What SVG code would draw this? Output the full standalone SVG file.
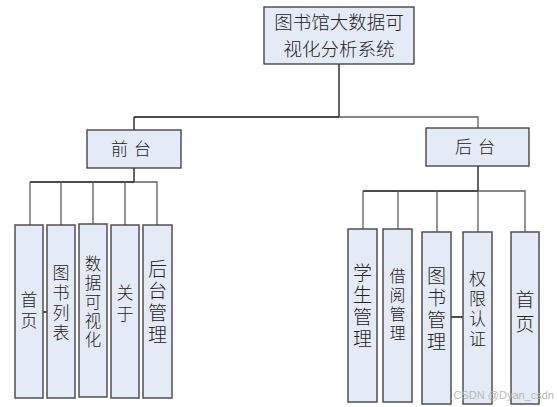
<svg xmlns="http://www.w3.org/2000/svg" width="557" height="407" viewBox="0 0 557 407">
<style>
.box{fill:#e5ebf6;stroke:#3a3a3a;stroke-width:1.3}
.leaf{fill:#e5ebf6;stroke:#505050;stroke-width:1.5}
.t{font-family:"Noto Sans CJK SC","Noto Sans CJK JP",sans-serif;font-weight:300;fill:#222;text-anchor:middle}
.v{writing-mode:vertical-rl;text-orientation:upright}
.ln{stroke:#111;stroke-width:1.3;fill:none}
.lg{stroke:#606060;stroke-width:1.3;fill:none}
</style>
<rect width="557" height="407" fill="#fff"/>
<g id="connectors">
<path class="ln" d="M339 64V117M134 117H339M134 117V130"/>
<path class="lg" d="M339 117H478V128"/>
<path class="ln" d="M134 168V182M30 182H134"/>
<path class="lg" d="M134 182H157V225M30 182V225M61 182V225M93 182V224M125 182V225"/>
<path class="ln" d="M478 166V191M363 191H478"/>
<path class="lg" d="M478 191H525V232M363 191V229M398 191V229M437 191V232M478 191V232"/>
<path class="ln" d="M43 312H47M451 317H463"/>
</g>
<g id="root"><rect class="box" x="264" y="7" width="150" height="57"/>
<text class="t" font-size="18.5" x="339" y="29">图书馆大数据可</text>
<text class="t" font-size="18.5" x="339" y="56">视化分析系统</text></g>
<g id="qiantai"><rect class="box" x="87" y="130" width="94" height="38"/>
<text class="t" font-size="17" x="134" y="155" letter-spacing="6">前台</text></g>
<g id="houtai"><rect class="box" x="426" y="128" width="103" height="38"/>
<text class="t" font-size="17" x="478" y="153" letter-spacing="6">后台</text></g>
<g id="l1"><rect class="leaf" x="15" y="225" width="28" height="173"/>
<text class="t v" font-size="17" letter-spacing="4" x="29" y="312.5">首页</text></g>
<g id="l2"><rect class="leaf" x="47" y="225" width="28" height="173"/>
<text class="t v" font-size="17" letter-spacing="3" x="61" y="304.5">图书列表</text></g>
<g id="l3"><rect class="leaf" x="79" y="224" width="28" height="173" stroke="#222"/>
<text class="t v" font-size="16.5" letter-spacing="2.5" x="93" y="303">数据可视化</text></g>
<g id="l4"><rect class="leaf" x="111" y="225" width="28" height="173"/>
<text class="t v" font-size="17" letter-spacing="4" x="125" y="305.5">关于</text></g>
<g id="l5"><rect class="leaf" x="143" y="225" width="29" height="173"/>
<text class="t v" font-size="19" letter-spacing="3" x="157.5" y="303.5">后台管理</text></g>
<g id="r1"><rect class="leaf" x="348" y="229" width="29" height="173"/>
<text class="t v" font-size="19" letter-spacing="3" x="362.5" y="307.5">学生管理</text></g>
<g id="r2"><rect class="leaf" x="383" y="229" width="29" height="173"/>
<text class="t v" font-size="16" letter-spacing="3" x="397.5" y="305.5">借阅管理</text></g>
<g id="r3"><rect class="leaf" x="422" y="232" width="29" height="172"/>
<text class="t v" font-size="19" letter-spacing="3" x="436.5" y="310.5">图书管理</text></g>
<g id="r4"><rect class="leaf" x="463" y="232" width="29" height="172"/>
<text class="t v" font-size="17" letter-spacing="3" x="477.5" y="310.5">权限认证</text></g>
<g id="r5"><rect class="leaf" x="511" y="232" width="28" height="172"/>
<text class="t v" font-size="19" letter-spacing="5" x="525" y="314.5">首页</text></g>
<text x="554" y="399" font-family="Liberation Sans,Arial,sans-serif" font-size="11" fill="#b8b8b8" text-anchor="end">CSDN @Dyan_csdn</text>
</svg>
